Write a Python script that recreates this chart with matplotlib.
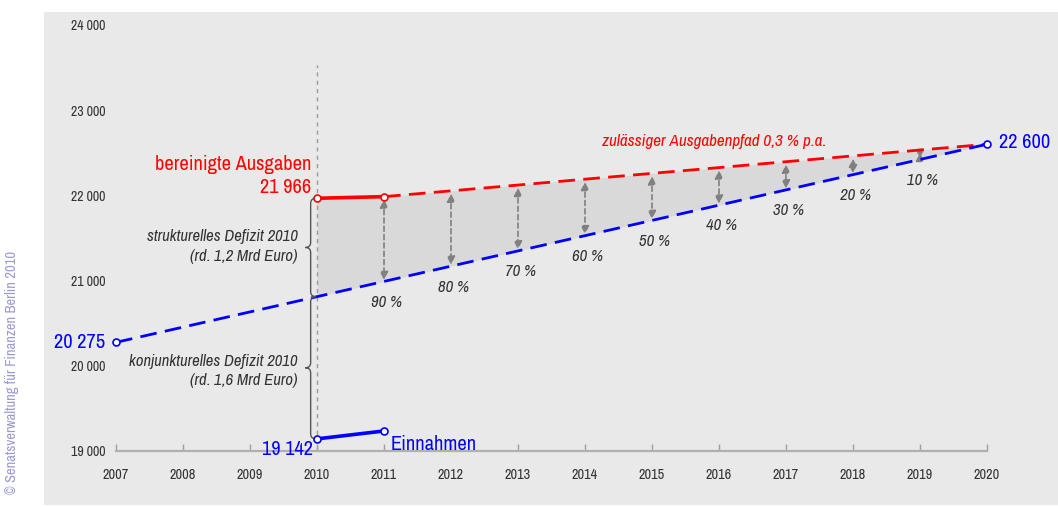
import matplotlib
matplotlib.use("Agg")
import matplotlib.pyplot as plt
from matplotlib.path import Path
from matplotlib.patches import PathPatch
from matplotlib import font_manager

# ---------------- data ----------------
years = list(range(2007, 2021))
ytick_vals = [19000, 20000, 21000, 22000, 23000, 24000]
ytick_labels = ["19 000", "20 000", "21 000", "22 000", "23 000", "24 000"]

ausgaben_years = [2010, 2011]
ausgaben_vals = [21966, 21985]

pfad_years = [2011, 2012, 2013, 2014, 2015, 2016, 2017, 2018, 2019, 2020]
pfad_vals = [21985, 22053, 22121, 22190, 22258, 22326, 22395, 22463, 22532, 22600]

einn_path_years = [2007, 2010, 2011, 2012, 2013, 2014, 2015, 2016, 2017, 2018, 2019, 2020]
einn_path_vals = [20275, 20811, 20990, 21169, 21348, 21527, 21706, 21885, 22064, 22243, 22421, 22600]

einnahmen_years = [2010, 2011]
einnahmen_vals = [19142, 19235]

fill_years = [2010, 2011, 2012, 2013, 2014, 2015, 2016, 2017, 2018, 2019, 2020]
fill_top = [21966, 21985, 22053, 22121, 22190, 22258, 22326, 22395, 22463, 22532, 22600]
fill_bottom = [20811, 20990, 21169, 21348, 21527, 21706, 21885, 22064, 22243, 22421, 22600]

pct_years = [2011, 2012, 2013, 2014, 2015, 2016, 2017, 2018, 2019]
pct_labels = ["90 %", "80 %", "70 %", "60 %", "50 %", "40 %", "30 %", "20 %", "10 %"]

# ---------------- fonts ----------------
names = {f.name for f in font_manager.fontManager.ttflist}
narrow = "Archivo Narrow" if "Archivo Narrow" in names else "Liberation Sans"
plt.rcParams["font.family"] = [narrow, "DejaVu Sans"]

RED = "#ff0000"
BLUE = "#0000ff"
GRAYBG = "#e9e9e9"
FILL = "#d9d9d9"
ARROW = "#808080"
TXT = "#333333"

fig = plt.figure(figsize=(10.58, 5.07), dpi=100)
fig.patch.set_facecolor("white")
ax = fig.add_axes([44 / 1058, 2 / 507, 1014 / 1058, 493 / 507])
ax.set_facecolor(GRAYBG)
ax.set_xlim(2005.925, 2021.06)
ax.set_ylim(18366, 24152)

for s in ["top", "right", "left"]:
    ax.spines[s].set_visible(False)
ax.spines["bottom"].set_position(("data", 19000))
ax.spines["bottom"].set_bounds(2007, 2020)
ax.spines["bottom"].set_color("#b0b0b0")
ax.spines["bottom"].set_linewidth(1.6)

ax.set_xticks(years)
ax.set_xticklabels([str(y) for y in years])
ax.tick_params(axis="x", direction="in", length=5, width=1, color="#a0a0a0",
               labelsize=10.3, labelcolor=TXT, pad=12)
ax.set_yticks(ytick_vals)
ax.set_yticklabels(ytick_labels)
ax.tick_params(axis="y", length=0, pad=-44, labelsize=10, labelcolor=TXT)

# fill between
ax.fill_between(fill_years, fill_bottom, fill_top, color=FILL, lw=0, zorder=1)

# vertical dashed 2010 line
ax.plot([2010, 2010], [19000, 23530], color="#9a9a9a", lw=1, ls=(0, (3, 3)), zorder=1.5)

# lines
ax.plot(pfad_years, pfad_vals, color=RED, lw=2, dashes=(6, 3), zorder=3)
ax.plot(einn_path_years, einn_path_vals, color=BLUE, lw=2, dashes=(6, 3), zorder=3)
ax.plot(ausgaben_years, ausgaben_vals, color=RED, lw=2.6, zorder=4,
        marker="o", ms=5, mfc="white", mec=RED, mew=1.2)
ax.plot(einnahmen_years, einnahmen_vals, color=BLUE, lw=2.6, zorder=4,
        marker="o", ms=5, mfc="white", mec=BLUE, mew=1.2)
ax.plot([einn_path_years[0], einn_path_years[-1]], [einn_path_vals[0], einn_path_vals[-1]],
        ls="none", marker="o", ms=5, mfc="white", mec=BLUE, mew=1.2, zorder=5)

# arrows and percent labels
top_map = dict(zip(fill_years, fill_top))
bot_map = dict(zip(fill_years, fill_bottom))
for yr, lab in zip(pct_years, pct_labels):
    ax.annotate("", xy=(yr, bot_map[yr]), xytext=(yr, top_map[yr]),
                arrowprops=dict(arrowstyle="<|-|>", color=ARROW, lw=1.2,
                                ls=(0, (3, 2)), mutation_scale=12,
                                shrinkA=2, shrinkB=1), zorder=2.5)
    ax.annotate(lab, xy=(yr, bot_map[yr]), xytext=(2, -15), textcoords="offset points",
                ha="center", va="center", fontsize=12, style="italic", color=TXT)

# braces
def brace(x, y0, y1, w_data, r_data):
    ym = (y0 + y1) / 2
    xl = x - w_data
    xm = x - w_data / 2
    verts = [
        (x, y1), (xm, y1), (xm, y1 - r_data),
        (xm, ym + r_data),
        (xm, ym), (xl, ym),
        (xm, ym), (xm, ym - r_data),
        (xm, y0 + r_data),
        (xm, y0), (x, y0),
    ]
    codes = [Path.MOVETO, Path.CURVE3, Path.CURVE3, Path.LINETO,
             Path.CURVE3, Path.CURVE3, Path.CURVE3, Path.CURVE3,
             Path.LINETO, Path.CURVE3, Path.CURVE3]
    ax.add_patch(PathPatch(Path(verts, codes), fill=False, ec="#555555", lw=1, zorder=3))

brace(2009.985, fill_bottom[0], fill_top[0], 0.16, 60)
brace(2009.985, einnahmen_vals[0], fill_bottom[0], 0.16, 60)

tx = 2009.716
for yv, s in [(21523, "strukturelles Defizit 2010"), (21277, "(rd. 1,2 Mrd Euro)"),
              (20056, "konjunkturelles Defizit 2010"), (19822, "(rd. 1,6 Mrd Euro)")]:
    ax.text(tx, yv, s, ha="right", va="center", fontsize=12, style="italic", color=TXT)

# value labels
big = 14.7
ax.annotate("bereinigte Ausgaben", xy=(ausgaben_years[0], ausgaben_vals[0]),
            xytext=(-4, 24), textcoords="offset points", ha="right", va="center",
            fontsize=big, color=RED)
ax.annotate("21 966", xy=(ausgaben_years[0], ausgaben_vals[0]),
            xytext=(-4, 7.5), textcoords="offset points", ha="right", va="center",
            fontsize=big, color=RED)
ax.annotate("20 275", xy=(einn_path_years[0], einn_path_vals[0]),
            xytext=(-8, 0), textcoords="offset points", ha="right", va="center",
            fontsize=big, color=BLUE,
            bbox=dict(boxstyle="square,pad=0.05", fc=GRAYBG, ec="none"), zorder=6)
ax.annotate("19 142", xy=(einnahmen_years[0], einnahmen_vals[0]),
            xytext=(-3, -7.5), textcoords="offset points", ha="right", va="center",
            fontsize=big, color=BLUE)
ax.annotate("Einnahmen", xy=(einnahmen_years[1], einnahmen_vals[1]),
            xytext=(4.5, -9.5), textcoords="offset points", ha="left", va="center",
            fontsize=big, color=BLUE)
ax.annotate("22 600", xy=(einn_path_years[-1], einn_path_vals[-1]),
            xytext=(9, 1.5), textcoords="offset points", ha="left", va="center",
            fontsize=big, color=BLUE)
ax.text(2015.93, 22638, "zulässiger Ausgabenpfad 0,3 % p.a.", ha="center", va="center",
        fontsize=12.3, style="italic", color=RED)

# copyright
fig.text(12 / 1058, 1 - 372 / 507, "© Senatsverwaltung für Finanzen Berlin 2010",
         rotation=90, ha="center", va="center", fontsize=10.5, color="#9a9ad2")

fig.savefig("out.png", dpi=100, facecolor="white")
